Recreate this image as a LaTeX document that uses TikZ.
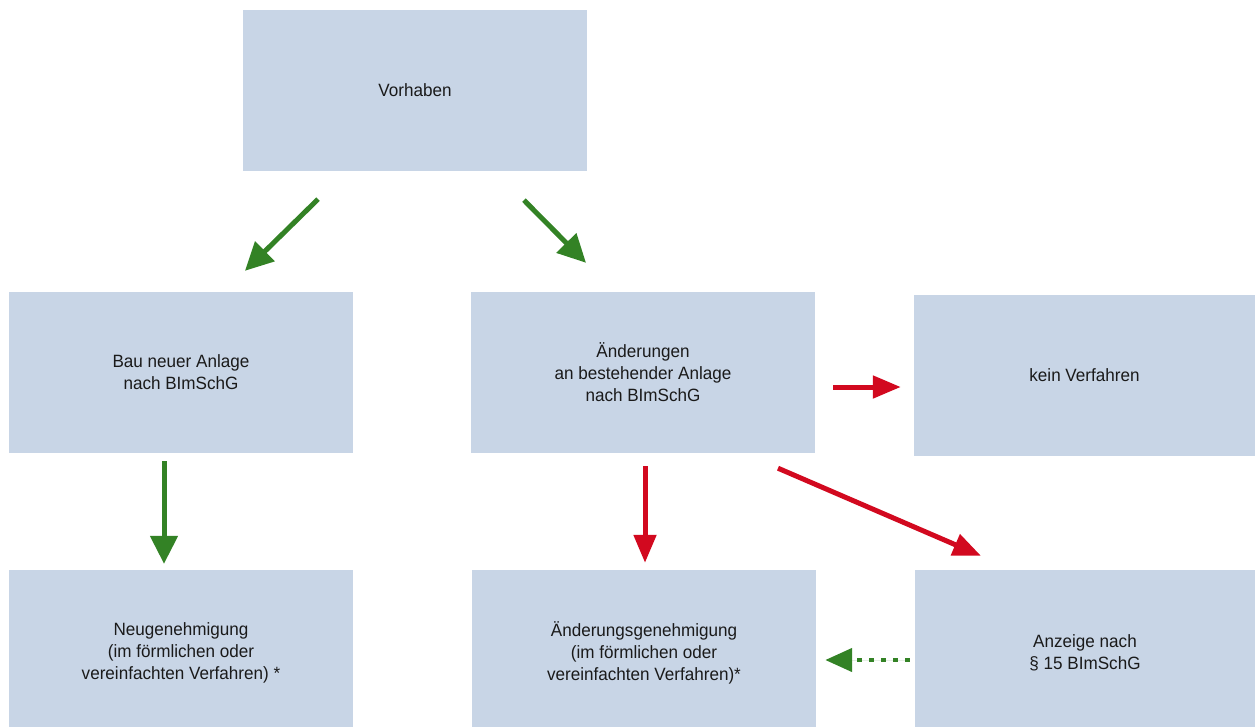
\documentclass[tikz,border=0pt]{standalone}
\usepackage{fontspec}
\setmainfont{Liberation Sans}[FakeStretch=0.96]
\usetikzlibrary{arrows.meta}
\definecolor{boxfill}{HTML}{C8D5E6}
\definecolor{flowgreen}{HTML}{338225}
\definecolor{flowred}{HTML}{D2091F}
\definecolor{textdark}{HTML}{1A1A1A}
\tikzset{
  stepbox/.style={fill=boxfill, draw=none, align=center, inner sep=0pt,
    text=textdark, font=\fontsize{17.8}{22}\selectfont},
  garrow/.style={draw=flowgreen, line width=5pt,
    -{Triangle[length=28pt,width=27pt]}, fill=flowgreen},
  rarrow/.style={draw=flowred, line width=5pt,
    -{Triangle[length=28pt,width=22pt]}, fill=flowred},
  gdotted/.style={draw=flowgreen, line width=4.5pt, dash pattern=on 4.5pt off 7.5pt,
    -{Triangle[length=27pt,width=23pt,sep=3pt]}, fill=flowgreen},
}
\begin{document}
\begin{tikzpicture}[x=1pt,y=-1pt]
  \useasboundingbox (0,0) rectangle (1255,726);
  \begin{scope}
    \clip (0,0) rectangle (1255,726);
    % boxes (the bottom row runs past the lower edge)
    \node[stepbox, minimum width=344pt, minimum height=161pt] (vor)  at (415,90.5) {Vorhaben};
    \node[stepbox, minimum width=344pt, minimum height=161pt] (bau)  at (181,372.5) {Bau neuer Anlage\\nach BImSchG};
    \node[stepbox, minimum width=344pt, minimum height=161pt] (aend) at (643,372.5) {Änderungen\\an bestehender Anlage\\nach BImSchG};
    \node[stepbox, minimum width=341pt, minimum height=161pt] (kein) at (1084.5,375.5) {kein Verfahren};
    \node[stepbox, minimum width=344pt, minimum height=166pt] (neu)  at (181,653) {Neugenehmigung\\(im förmlichen oder\\vereinfachten Verfahren) *};
    \node[stepbox, minimum width=344pt, minimum height=166pt] (aeg)  at (644,653) {Änderungsgenehmigung\\(im förmlichen oder\\vereinfachten Verfahren)*};
    \node[stepbox, minimum width=340pt, minimum height=166pt] (anz)  at (1085,653) {Anzeige nach\\§ 15 BImSchG};
  \end{scope}
  % connectors
  \draw[garrow] ([shift={(-97,28)}]vor.south) -- ([shift={(64,-21)}]bau.north);
  \draw[garrow] ([shift={(109,29)}]vor.south) -- ([shift={(-57,-29)}]aend.north);
  \draw[garrow] ([shift={(-17,8)}]bau.south) -- ([shift={(-17,-6)}]neu.north);
  \draw[rarrow] ([shift={(2,13)}]aend.south) -- ([shift={(1,-7)}]aeg.north);
  \draw[rarrow] ([shift={(18,14.5)}]aend.east) -- ([shift={(-13,11.5)}]kein.west);
  \draw[rarrow] ([shift={(135,15)}]aend.south) -- ([shift={(-104,-14)}]anz.north);
  \draw[gdotted] ([shift={(-5,7)}]anz.west) -- ([shift={(6,7)}]aeg.east);
\end{tikzpicture}
\end{document}
